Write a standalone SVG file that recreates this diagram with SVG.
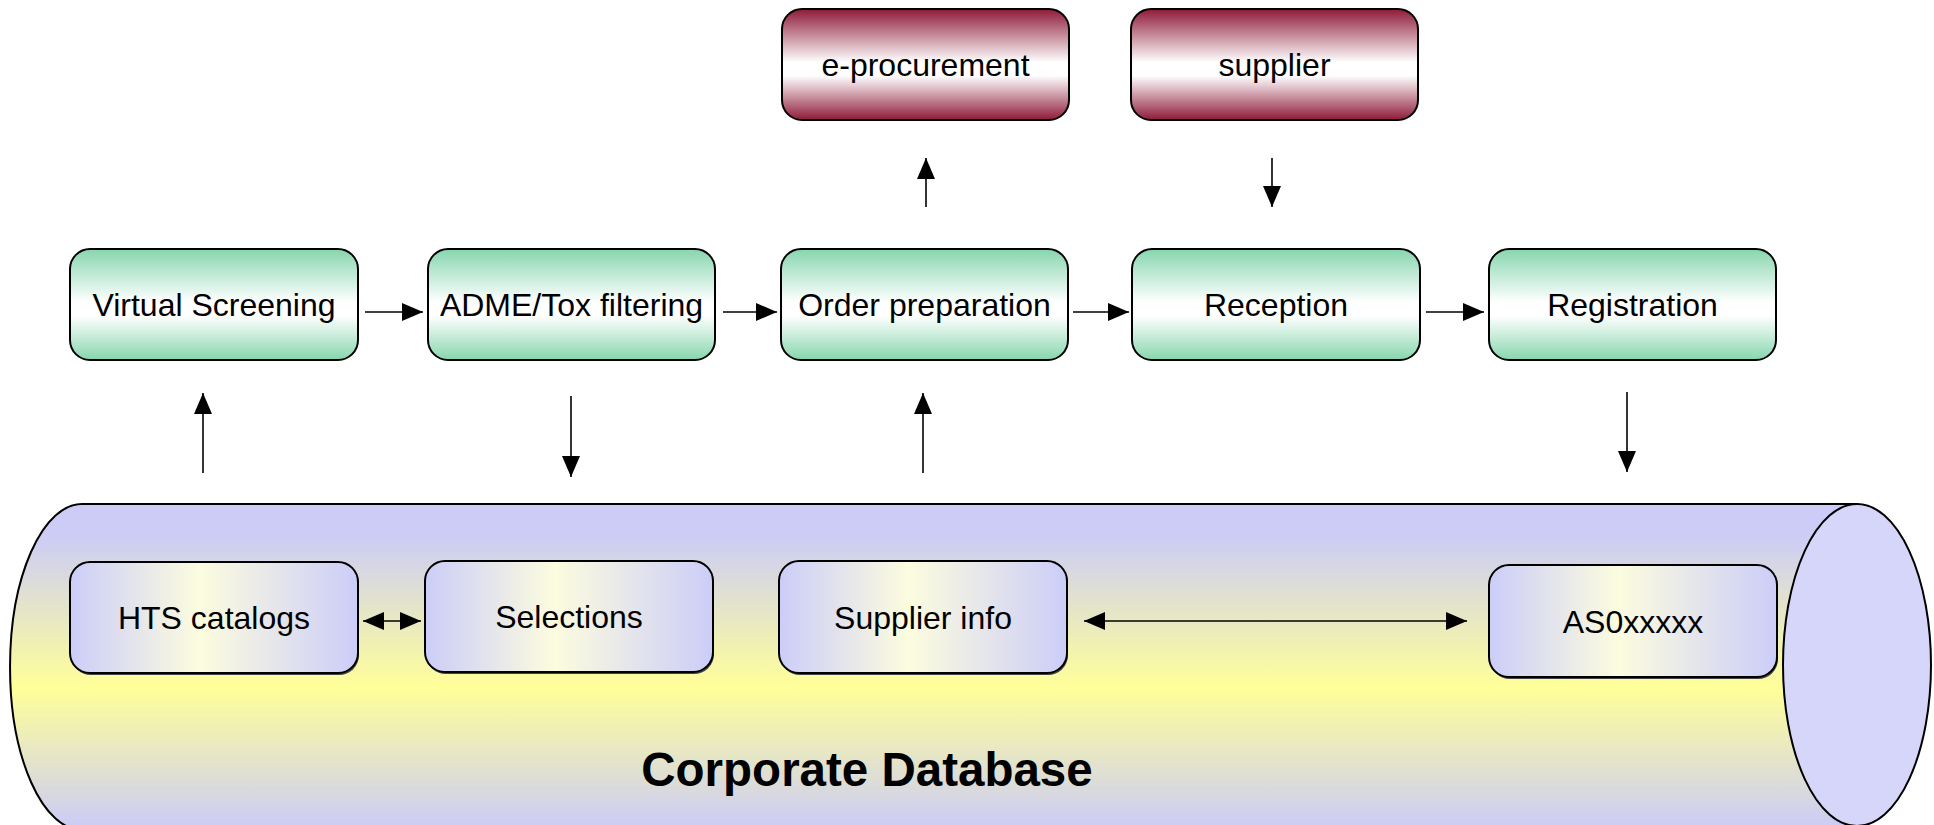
<svg xmlns="http://www.w3.org/2000/svg" width="1934" height="825" viewBox="0 0 1934 825">
  <defs>
    <linearGradient id="gradGreen" x1="0" y1="0" x2="0" y2="1">
      <stop offset="0" stop-color="#86d6ae"/>
      <stop offset="0.48" stop-color="#ffffff"/>
      <stop offset="0.6" stop-color="#ffffff"/>
      <stop offset="1" stop-color="#86d6ae"/>
    </linearGradient>
    <linearGradient id="gradMaroon" x1="0" y1="0" x2="0" y2="1">
      <stop offset="0" stop-color="#8e1a39"/>
      <stop offset="0.48" stop-color="#ffffff"/>
      <stop offset="0.6" stop-color="#ffffff"/>
      <stop offset="1" stop-color="#8e1a39"/>
    </linearGradient>
    <linearGradient id="gradStore" x1="0" y1="0" x2="1" y2="0">
      <stop offset="0" stop-color="#cccdf8"/>
      <stop offset="0.45" stop-color="#fcfcdf"/>
      <stop offset="1" stop-color="#cccdf8"/>
    </linearGradient>
    <linearGradient id="gradBody" x1="0" y1="504" x2="0" y2="826" gradientUnits="userSpaceOnUse">
      <stop offset="0" stop-color="#ccccf6"/>
      <stop offset="0.1" stop-color="#ccccf6"/>
      <stop offset="0.57" stop-color="#ffff99"/>
      <stop offset="1" stop-color="#ccccf6"/>
    </linearGradient>
    <marker id="head" markerUnits="userSpaceOnUse" markerWidth="21" markerHeight="18" refX="21" refY="9" orient="auto-start-reverse">
      <path d="M0,0 L21,9 L0,18 Z" fill="#000"/>
    </marker>
  </defs>
  <style>
    .box { stroke: #000; stroke-width: 2; }
    .proc { fill: url(#gradGreen); }
    .ext { fill: url(#gradMaroon); }
    .store { fill: url(#gradStore); }
    .shadow { fill: #444; }
    .label { font-family: "Liberation Sans", Arial, sans-serif; font-size: 32px; fill: #000; text-anchor: middle; }
    .title { font-family: "Liberation Sans", Arial, sans-serif; font-size: 47.5px; font-weight: bold; fill: #000; text-anchor: middle; }
    .conn line { stroke: #000; stroke-width: 1.6; fill: none; }
  </style>

  <rect width="1934" height="825" fill="#ffffff"/>

  <!-- Corporate database cylinder -->
  <g id="corporate-database">
    <path d="M82,504 H1857 V830 H82 A72,163 0 0 1 82,504 Z" fill="url(#gradBody)" stroke="#000" stroke-width="2"/>
    <ellipse cx="1857" cy="665" rx="74" ry="161" fill="#d6d6fa" stroke="#000" stroke-width="2"/>
    <text class="title" x="867" y="786">Corporate Database</text>
  </g>

  <!-- External parties -->
  <g id="e-procurement">
    <rect class="box ext" x="782" y="9" width="287" height="111" rx="20"/>
    <text class="label" x="925.5" y="76">e-procurement</text>
  </g>
  <g id="supplier">
    <rect class="box ext" x="1131" y="9" width="287" height="111" rx="20"/>
    <text class="label" x="1274.5" y="76">supplier</text>
  </g>

  <!-- Process steps -->
  <g id="virtual-screening">
    <rect class="box proc" x="70" y="249" width="288" height="111" rx="20"/>
    <text class="label" x="214" y="316">Virtual Screening</text>
  </g>
  <g id="adme-tox-filtering">
    <rect class="box proc" x="428" y="249" width="287" height="111" rx="20"/>
    <text class="label" x="571.5" y="316">ADME/Tox filtering</text>
  </g>
  <g id="order-preparation">
    <rect class="box proc" x="781" y="249" width="287" height="111" rx="20"/>
    <text class="label" x="924.5" y="316">Order preparation</text>
  </g>
  <g id="reception">
    <rect class="box proc" x="1132" y="249" width="288" height="111" rx="20"/>
    <text class="label" x="1276" y="316">Reception</text>
  </g>
  <g id="registration">
    <rect class="box proc" x="1489" y="249" width="287" height="111" rx="20"/>
    <text class="label" x="1632.5" y="316">Registration</text>
  </g>

  <!-- Data stores inside the database -->
  <g id="hts-catalogs">
    <rect class="shadow" x="71" y="564" width="288" height="111" rx="20"/>
    <rect class="box store" x="70" y="562" width="288" height="111" rx="20"/>
    <text class="label" x="214" y="629">HTS catalogs</text>
  </g>
  <g id="selections">
    <rect class="shadow" x="426" y="563" width="288" height="111" rx="20"/>
    <rect class="box store" x="425" y="561" width="288" height="111" rx="20"/>
    <text class="label" x="569" y="628">Selections</text>
  </g>
  <g id="supplier-info">
    <rect class="shadow" x="780" y="563" width="288" height="112" rx="20"/>
    <rect class="box store" x="779" y="561" width="288" height="112" rx="20"/>
    <text class="label" x="923" y="629">Supplier info</text>
  </g>
  <g id="as0xxxxx">
    <rect class="shadow" x="1490" y="567" width="288" height="112" rx="20"/>
    <rect class="box store" x="1489" y="565" width="288" height="112" rx="20"/>
    <text class="label" x="1633" y="633">AS0xxxxx</text>
  </g>

  <!-- Connectors -->
  <g id="connectors" class="conn">
    <line x1="365" y1="312" x2="423" y2="312" marker-end="url(#head)"/>
    <line x1="723" y1="312" x2="777" y2="312" marker-end="url(#head)"/>
    <line x1="1073" y1="312" x2="1129" y2="312" marker-end="url(#head)"/>
    <line x1="1426" y1="312" x2="1484" y2="312" marker-end="url(#head)"/>
    <line x1="926" y1="207" x2="926" y2="158" marker-end="url(#head)"/>
    <line x1="1272" y1="158" x2="1272" y2="207" marker-end="url(#head)"/>
    <line x1="203" y1="473" x2="203" y2="393" marker-end="url(#head)"/>
    <line x1="571" y1="396" x2="571" y2="477" marker-end="url(#head)"/>
    <line x1="923" y1="473" x2="923" y2="393" marker-end="url(#head)"/>
    <line x1="1627" y1="392" x2="1627" y2="472" marker-end="url(#head)"/>
    <line x1="363" y1="621" x2="421" y2="621" marker-start="url(#head)" marker-end="url(#head)"/>
    <line x1="1084" y1="621" x2="1467" y2="621" marker-start="url(#head)" marker-end="url(#head)"/>
  </g>
</svg>
